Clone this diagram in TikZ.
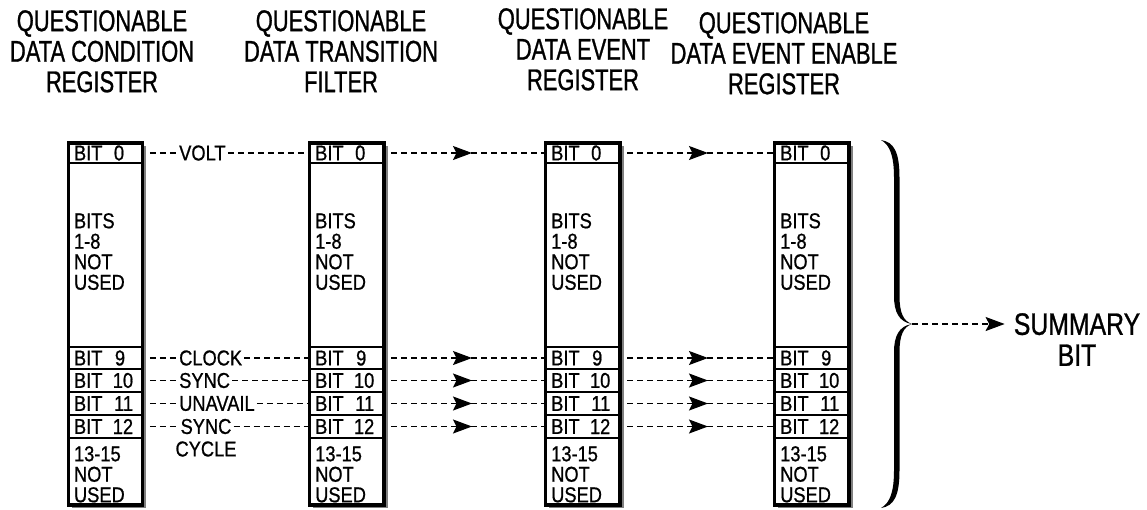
\documentclass[tikz,border=0pt]{standalone}
\usepackage{fontspec}
\setmainfont{Liberation Sans}[FakeStretch=0.85, FakeBold=0.8]
\newfontfamily\headfont{Liberation Sans}[FakeStretch=0.73, FakeBold=0.9]
\newfontfamily\sumfont{Liberation Sans}[FakeStretch=0.8, FakeBold=0.9]
\usetikzlibrary{arrows.meta,shadows,decorations.markings}
\tikzset{
  regbox/.style={draw=black, line width=3.2pt, fill=white, minimum width=74.5pt, minimum height=362pt,
    anchor=north west, inner sep=0pt, outer sep=0pt,
    drop shadow={shadow xshift=3.5pt, shadow yshift=-2.5pt, fill=black!50, opacity=1}},
  cell/.style={draw=black, line width=1.6pt, minimum width=74.5pt, anchor=north west, inner sep=0pt, outer sep=0pt},
  celltxt/.style={font=\fontsize{21.5pt}{20.5pt}\selectfont, inner sep=0pt},
  multitxt/.style={celltxt, align=left, anchor=north west},
  lbl/.style={font=\fontsize{21.5pt}{21pt}\selectfont, inner sep=2pt},
  head/.style={font=\headfont\fontsize{30pt}{30.5pt}\selectfont, align=center, anchor=north, inner sep=0pt},
  sumtxt/.style={font=\sumfont\fontsize{31pt}{31pt}\selectfont, align=center, anchor=north, inner sep=0pt},
  conn/.style={line width=1.4pt, dash pattern=on 6pt off 4pt},
  firstconn/.style={conn, shorten <=7pt},
  flow/.style={conn, shorten <=7pt,
    decoration={markings, mark=at position 88pt with {\arrow{Stealth[length=19pt,width=14pt,inset=3.5pt]}}},
    postaction={decorate}},
}
\begin{document}
\begin{tikzpicture}[x=1pt, y=-1pt]
\useasboundingbox (0,0) rectangle (1147,509);

% headings
\node[head] (h1) at (102,10) {QUESTIONABLE\\DATA CONDITION\\REGISTER};
\node[head] (h2) at (341,10) {QUESTIONABLE\\DATA TRANSITION\\FILTER};
\node[head] (h3) at (583,8) {QUESTIONABLE\\DATA EVENT\\REGISTER};
\node[head] (h4) at (784,12) {QUESTIONABLE\\DATA EVENT ENABLE\\REGISTER};

% registers
\foreach \i/\L in {1/68.3, 2/309.5, 3/545.5, 4/774.5} {
  \node[regbox] (reg\i) at (\L,143) {};
  \node[cell, minimum height=20pt] (c\i-0) at (\L,143) {};
  \node[cell, minimum height=184pt] (c\i-1) at (\L,163) {};
  \node[cell, minimum height=22pt] (c\i-9) at (\L,347) {};
  \node[cell, minimum height=23pt] (c\i-10) at (\L,369) {};
  \node[cell, minimum height=23pt] (c\i-11) at (\L,392) {};
  \node[cell, minimum height=23pt] (c\i-12) at (\L,415) {};
  \node[cell, minimum height=67.3pt] (c\i-13) at (\L,438) {};
  \draw[line width=3.2pt] (reg\i.north west) rectangle (reg\i.south east);
  \foreach \r/\n/\off in {0/0/56, 9/9/57, 10/10/65, 11/11/65, 12/12/65} {
    \node[celltxt, anchor=west] (b\i-\r) at ([xshift=5.5pt]c\i-\r.west) {BIT};
    \node[celltxt, anchor=east] (n\i-\r) at ([xshift=\off pt]c\i-\r.west) {\n};
  }
  \node[multitxt] (m\i) at (\L+5.5,213) {BITS\\1-8\\NOT\\USED};
  \node[multitxt] (u\i) at (\L+5.5,446) {13-15\\NOT\\USED};
}

% condition register -> transition filter, labelled
\node[lbl, anchor=west] (volt) at (177,153) {VOLT};
\node[lbl, anchor=west] (clock) at (177,358) {CLOCK};
\node[lbl, anchor=west] (sync) at (177,380.5) {SYNC};
\node[lbl, anchor=west] (unavail) at (177,403.5) {UNAVAIL};
\node[lbl] (sync2) at (206,426.5) {SYNC};
\node[lbl] (cycle) at (206,449) {CYCLE};
\foreach \r/\l in {0/volt, 9/clock, 10/sync, 11/unavail, 12/sync2} {
  \draw[firstconn] (c1-\r.east) -- (\l.west);
  \draw[conn] (\l.east) -- (c2-\r.west);
}

% filter -> event register -> enable register
\foreach \a/\b in {2/3, 3/4} {
  \foreach \r in {0, 9, 10, 11, 12} {
    \draw[flow] (c\a-\r.east) -- (c\b-\r.west);
  }
}

% brace
\fill (881,140) .. controls (894,142) and (899.5,152) .. (899.5,178) -- (899.5,296)
  .. controls (899.5,312) and (903,321) .. (912,324)
  .. controls (899,322) and (894,312) .. (894,296) -- (894,178)
  .. controls (894,156) and (890,145) .. (881,140) -- cycle;
\fill (881,508) .. controls (894,506) and (899.5,496) .. (899.5,470) -- (899.5,352)
  .. controls (899.5,336) and (903,327) .. (912,324)
  .. controls (899,326) and (894,336) .. (894,352) -- (894,470)
  .. controls (894,492) and (890,503) .. (881,508) -- cycle;
\coordinate (btip) at (912,324);

\node[sumtxt] (sum) at (1077,313) {SUMMARY\\BIT};
\draw[conn, -{Stealth[length=19pt,width=14pt,inset=3.5pt]}, shorten >=9pt] (btip) -- (btip -| sum.west);
\end{tikzpicture}
\end{document}
